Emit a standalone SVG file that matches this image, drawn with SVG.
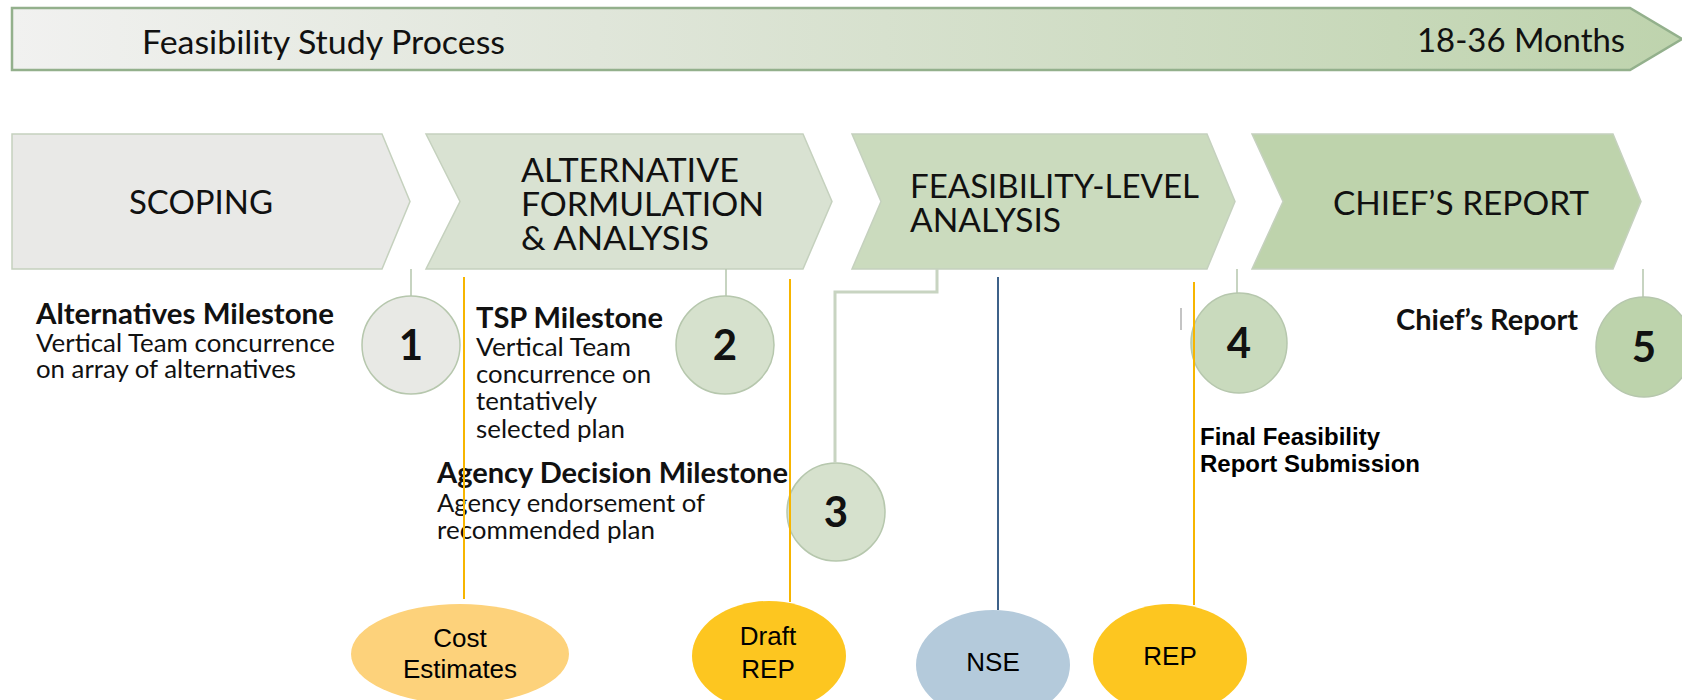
<svg xmlns="http://www.w3.org/2000/svg" width="1682" height="700" viewBox="0 0 1682 700">
<defs>
<linearGradient id="bannerGrad" x1="0" y1="0" x2="1" y2="0">
<stop offset="0" stop-color="#f1f1f0"/>
<stop offset="0.35" stop-color="#e0e6da"/>
<stop offset="1" stop-color="#bed3ad"/>
</linearGradient>
<style>
.cal{font-family:Lato,"Open Sans","Liberation Sans",sans-serif;fill:#111}
.ari{font-family:"Liberation Sans",Arial,sans-serif;fill:#000}
.chev{stroke:#c5d1be;stroke-width:1.5}
.big{font-size:33.5px}
.head{font-size:28px;font-weight:bold}
.body{font-size:24.7px}
.num{font-size:42px;font-weight:bold;text-anchor:middle}
.circ{stroke:#b6c7ad;stroke-width:1.5}
.thin{stroke:#b5c6ac;stroke-width:1.5;fill:none}
.orange{stroke:#f7b500;stroke-width:2}
.blue{stroke:#3d6189;stroke-width:2}
.oval{font-size:26px;text-anchor:middle}
</style>
</defs>
<rect width="1682" height="700" fill="#fff"/>

<g id="banner">
<polygon points="12,8 1630,8 1682,39 1630,70 12,70" fill="url(#bannerGrad)" stroke="#93b08c" stroke-width="2.5"/>
<text class="cal" x="142" y="54" font-size="32" textLength="363" lengthAdjust="spacingAndGlyphs">Feasibility Study Process</text>
<text class="cal" x="1417" y="52" font-size="32" textLength="208" lengthAdjust="spacingAndGlyphs">18-36 Months</text>
</g>

<g id="scoping">
<polygon class="chev" points="12,134 382,134 410,201.5 382,269 12,269" fill="#e9e9e7"/>
<text class="cal big" x="129" y="214" textLength="144" lengthAdjust="spacingAndGlyphs">SCOPING</text>
</g>
<g id="alternative-formulation">
<polygon class="chev" points="426,134 803,134 832,201.5 803,269 426,269 460,201.5" fill="#d9e2d2"/>
<text class="cal big" x="521" y="182" textLength="218" lengthAdjust="spacingAndGlyphs">ALTERNATIVE</text>
<text class="cal big" x="521" y="216" textLength="243" lengthAdjust="spacingAndGlyphs">FORMULATION</text>
<text class="cal big" x="521" y="250" textLength="188" lengthAdjust="spacingAndGlyphs">&amp; ANALYSIS</text>
</g>
<g id="feasibility-level">
<polygon class="chev" points="852,134 1207,134 1235,201.5 1207,269 852,269 881,201.5" fill="#cbdbbe"/>
<text class="cal big" x="910" y="198" textLength="289" lengthAdjust="spacingAndGlyphs">FEASIBILITY-LEVEL</text>
<text class="cal big" x="910" y="232" textLength="151" lengthAdjust="spacingAndGlyphs">ANALYSIS</text>
</g>
<g id="chiefs-report">
<polygon class="chev" points="1252,134 1613,134 1641,201.5 1613,269 1252,269 1283,201.5" fill="#bed3ac"/>
<text class="cal big" x="1333" y="215" textLength="256" lengthAdjust="spacingAndGlyphs">CHIEF’S REPORT</text>
</g>

<g id="milestone-1">
<ellipse class="circ" cx="411" cy="345" rx="49" ry="49" fill="#e8e9e5"/>
<text class="cal num" x="411" y="360">1</text>
</g>
<g id="milestone-2">
<ellipse class="circ" cx="725" cy="345" rx="49" ry="49" fill="#d6e1cd"/>
<text class="cal num" x="725" y="360">2</text>
</g>
<g id="milestone-3">
<ellipse class="circ" cx="836" cy="512" rx="49" ry="49" fill="#d6e1cd"/>
<text class="cal num" x="836" y="527">3</text>
</g>
<g id="milestone-4">
<ellipse class="circ" cx="1239" cy="343" rx="48" ry="50" fill="#c9dabd"/>
<text class="cal num" x="1239" y="358">4</text>
</g>
<g id="milestone-5">
<ellipse class="circ" cx="1644" cy="347" rx="48" ry="50" fill="#bdd3ac"/>
<text class="cal num" x="1644" y="362">5</text>
</g>

<g id="alternatives-milestone-label">
<text class="cal head" x="36" y="324" textLength="298" lengthAdjust="spacingAndGlyphs">Alternatives Milestone</text>
<text class="cal body" x="36" y="352" textLength="299" lengthAdjust="spacingAndGlyphs">Vertical Team concurrence</text>
<text class="cal body" x="36" y="378" textLength="260" lengthAdjust="spacingAndGlyphs">on array of alternatives</text>
</g>
<g id="tsp-milestone-label">
<text class="cal head" x="476" y="328" textLength="187" lengthAdjust="spacingAndGlyphs">TSP Milestone</text>
<text class="cal body" x="476" y="356" textLength="155" lengthAdjust="spacingAndGlyphs">Vertical Team</text>
<text class="cal body" x="476" y="383" textLength="175" lengthAdjust="spacingAndGlyphs">concurrence on</text>
<text class="cal body" x="476" y="410" textLength="121" lengthAdjust="spacingAndGlyphs">tentatively</text>
<text class="cal body" x="476" y="438" textLength="149" lengthAdjust="spacingAndGlyphs">selected plan</text>
</g>
<g id="agency-decision-label">
<text class="cal head" x="437" y="483" textLength="351" lengthAdjust="spacingAndGlyphs">Agency Decision Milestone</text>
<text class="cal body" x="437" y="512" textLength="268" lengthAdjust="spacingAndGlyphs">Agency endorsement of</text>
<text class="cal body" x="437" y="539" textLength="218" lengthAdjust="spacingAndGlyphs">recommended plan</text>
</g>
<g id="chiefs-report-label">
<text class="cal head" x="1396" y="330" textLength="182" lengthAdjust="spacingAndGlyphs">Chief’s Report</text>
</g>
<g id="final-report-label">
<text class="ari" x="1200" y="445" font-size="24" font-weight="bold" textLength="180" lengthAdjust="spacingAndGlyphs">Final Feasibility</text>
<text class="ari" x="1200" y="472" font-size="24" font-weight="bold" textLength="220" lengthAdjust="spacingAndGlyphs">Report Submission</text>
</g>

<g id="cost-estimates">
<ellipse cx="460" cy="654" rx="109" ry="50" fill="#fdd27b"/>
<text class="ari oval" x="460" y="647">Cost</text>
<text class="ari oval" x="460" y="678">Estimates</text>
</g>
<g id="draft-rep">
<ellipse cx="769" cy="656" rx="77" ry="55" fill="#fdc620"/>
<text class="ari oval" x="768" y="645">Draft</text>
<text class="ari oval" x="768" y="678">REP</text>
</g>
<g id="nse">
<ellipse cx="993" cy="665" rx="77" ry="55" fill="#b4cadb"/>
<text class="ari oval" x="993" y="671">NSE</text>
</g>
<g id="rep">
<ellipse cx="1170" cy="659" rx="77" ry="55" fill="#fdc620"/>
<text class="ari oval" x="1170" y="665">REP</text>
</g>

<g id="connectors">
<line class="thin" x1="411" y1="269" x2="411" y2="296"/>
<line class="thin" x1="726" y1="269" x2="726" y2="296"/>
<polyline points="937,269 937,292 835,292 835,463" fill="none" stroke="#c8d4c1" stroke-width="3"/>
<line class="thin" x1="1237" y1="269" x2="1237" y2="293"/>
<line class="thin" x1="1643" y1="269" x2="1643" y2="297"/>
<line x1="1181" y1="308" x2="1181" y2="330" stroke="#b0b0b0" stroke-width="1.5"/>
<line class="orange" x1="464" y1="277" x2="464" y2="599"/>
<line class="orange" x1="790" y1="279" x2="790" y2="602"/>
<line class="orange" x1="1194" y1="282" x2="1194" y2="605"/>
<line class="blue" x1="998" y1="277" x2="998" y2="610"/>
</g>
</svg>
